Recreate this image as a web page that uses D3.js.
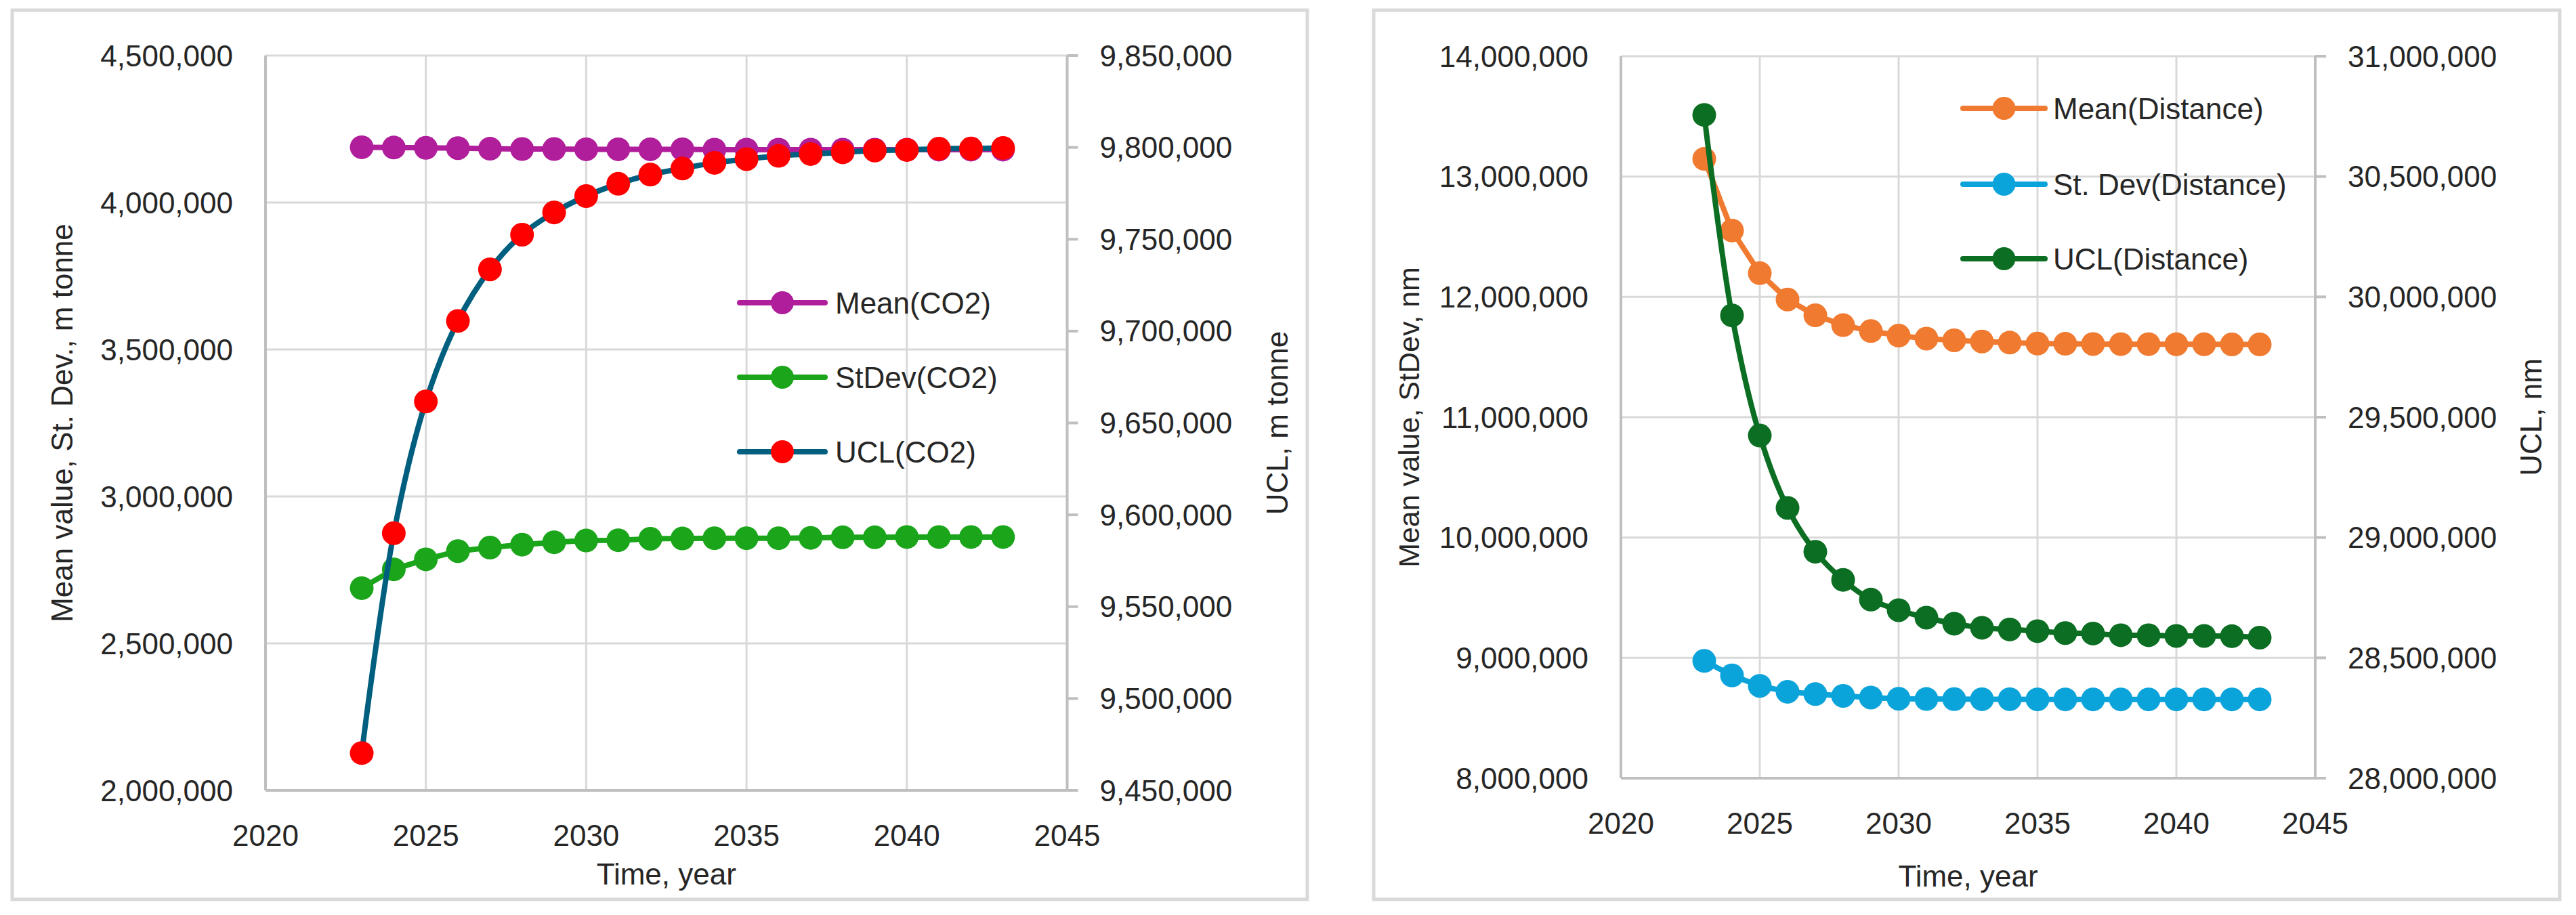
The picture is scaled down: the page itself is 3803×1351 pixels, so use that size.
<!DOCTYPE html>
<html>
<head>
<meta charset="utf-8">
<script src="https://cdn.jsdelivr.net/npm/d3@7"></script>
<style>
  html, body { margin: 0; padding: 0; background: #fff; }
  svg { display: block; }
  text { font-family: "Liberation Sans", Arial, sans-serif; fill: #262626; }
  .narrow { font-family: "Liberation Sans Narrow", "Liberation Sans", Arial, sans-serif; }
</style>
</head>
<body>
<div id="svgcontainer"></div>
<script>
// --- --- Data --- ---

var years = [2023, 2024, 2025, 2026, 2027, 2028, 2029, 2030, 2031, 2032, 2033,
             2034, 2035, 2036, 2037, 2038, 2039, 2040, 2041, 2042, 2043];

// CO2 (left chart)
var co2Mean  = [4188000, 4187000, 4186000, 4185000, 4183000, 4182000, 4182000, 4181000, 4181000, 4181000, 4181000,
                4180000, 4180000, 4180000, 4180000, 4180000, 4180000, 4180000, 4180000, 4180000, 4180000];
var co2StDev = [2688000, 2752000, 2786000, 2814000, 2826000, 2836000, 2844000, 2850000, 2851000, 2856000, 2857000,
                2858000, 2858000, 2858000, 2859000, 2861000, 2861000, 2862000, 2862000, 2862000, 2862000];
var co2Ucl   = [9470300, 9590000, 9661700, 9705500, 9733600, 9752500, 9764600, 9773500, 9780200, 9785200, 9788500,
                9791600, 9793600, 9795400, 9796400, 9797300, 9798300, 9798600, 9799300, 9799400, 9799700];

// Distance (right chart)
var distMean  = [13147000, 12551000, 12197000, 11978000, 11847000, 11765000, 11716000, 11678000, 11653000, 11639000, 11629000,
                 11620000, 11612000, 11610000, 11608000, 11607000, 11607000, 11606000, 11606000, 11605000, 11605000];
var distStDev = [8975000, 8854000, 8767000, 8718000, 8699000, 8684000, 8670000, 8660000, 8658000, 8657000, 8656000,
                 8656000, 8655000, 8655000, 8655000, 8655000, 8655000, 8655000, 8655000, 8655000, 8655000];
var distUcl   = [30756000, 29923000, 29424000, 29123000, 28941000, 28824000, 28742000, 28698000, 28667000, 28642000, 28625000,
                 28618000, 28611000, 28603000, 28601000, 28594000, 28594000, 28591000, 28591000, 28590000, 28584000];

// Tick values
var xTicks = [2020, 2025, 2030, 2035, 2040, 2045];
var co2LeftTicks  = [2000000, 2500000, 3000000, 3500000, 4000000, 4500000];
var co2RightTicks = [9450000, 9500000, 9550000, 9600000, 9650000, 9700000, 9750000, 9800000, 9850000];
var distLeftTicks  = [8000000, 9000000, 10000000, 11000000, 12000000, 13000000, 14000000];
var distRightTicks = [28000000, 28500000, 29000000, 29500000, 30000000, 30500000, 31000000];

// Series names
var co2Names  = ["Mean(CO2)", "StDev(CO2)", "UCL(CO2)"];
var distNames = ["Mean(Distance)", "St. Dev(Distance)", "UCL(Distance)"];

// --- --- Layout --- ---

var width = 3803;
var height = 1351;
var grid_color = "#D9D9D9";
var axis_color = "#BFBFBF";

var svg = d3.select("#svgcontainer").append("svg")
    .attr("width", width).attr("height", height)
    .attr("viewBox", [0, 0, width, height]);

var charts = [
  {
    panel: {x: 18, y: 15, w: 1912, h: 1313},
    plot: {left: 392, right: 1575.5, top: 82, bottom: 1167},
    leftTicks: co2LeftTicks, rightTicks: co2RightTicks,
    leftTitle: "Mean value, St. Dev., m tonne", leftTitleX: 91, leftTitleSize: 44,
    rightTitle: "UCL, m tonne", rightTitleX: 1885,
    xTitleY: 1290,
    series: [
      {name: co2Names[0], values: co2Mean,  axis: "left",  line: "#B01E9B", marker: "#B01E9B"},
      {name: co2Names[1], values: co2StDev, axis: "left",  line: "#1AA51A", marker: "#1AA51A"},
      {name: co2Names[2], values: co2Ucl,   axis: "right", line: "#005E7F", marker: "#FF0000", smooth: true}
    ],
    legend: {x1: 1092, x2: 1218, textX: 1233, rows: [447, 557, 667]}
  },
  {
    panel: {x: 2028, y: 15, w: 1751, h: 1313},
    plot: {left: 2393, right: 3418, top: 83, bottom: 1149},
    leftTicks: distLeftTicks, rightTicks: distRightTicks,
    leftTitle: "Mean value, StDev, nm", leftTitleX: 2080, leftTitleSize: 43,
    rightTitle: "UCL, nm", rightTitleX: 3736,
    xTitleY: 1293,
    series: [
      {name: distNames[0], values: distMean,  axis: "left",  line: "#F07A30", marker: "#F07A30"},
      {name: distNames[1], values: distStDev, axis: "left",  line: "#0AA3DA", marker: "#0AA3DA"},
      {name: distNames[2], values: distUcl,   axis: "right", line: "#0B6E22", marker: "#0B6E22", smooth: true}
    ],
    legend: {x1: 2898, x2: 3019, textX: 3031, rows: [160, 272, 382]}
  }
];

charts.forEach(drawChart);

// --- --- Functions --- ---

function drawChart(c){
    var g = svg.append("g");

    // panel border
    g.append("rect")
        .attr("x", c.panel.x).attr("y", c.panel.y)
        .attr("width", c.panel.w).attr("height", c.panel.h)
        .attr("fill", "#fff").attr("stroke", "#D9D9D9").attr("stroke-width", 5);

    var x = d3.scaleLinear().domain([xTicks[0], xTicks[xTicks.length-1]]).range([c.plot.left, c.plot.right]);
    var yL = d3.scaleLinear().domain(d3.extent(c.leftTicks)).range([c.plot.bottom, c.plot.top]);
    var yR = d3.scaleLinear().domain(d3.extent(c.rightTicks)).range([c.plot.bottom, c.plot.top]);
    var fmt = d3.format(",");

    // horizontal gridlines (left axis)
    g.append("g").selectAll("line").data(c.leftTicks.slice(1)).join("line")
        .attr("x1", c.plot.left).attr("x2", c.plot.right)
        .attr("y1", d => yL(d)).attr("y2", d => yL(d))
        .attr("stroke", grid_color).attr("stroke-width", 3);

    // vertical gridlines
    g.append("g").selectAll("line").data(xTicks.slice(1, -1)).join("line")
        .attr("x1", d => x(d)).attr("x2", d => x(d))
        .attr("y1", c.plot.top).attr("y2", c.plot.bottom)
        .attr("stroke", grid_color).attr("stroke-width", 3);

    // axis lines
    var axes = g.append("g").attr("stroke", axis_color).attr("stroke-width", 4);
    axes.append("line").attr("x1", c.plot.left).attr("x2", c.plot.left).attr("y1", c.plot.top).attr("y2", c.plot.bottom);
    axes.append("line").attr("x1", c.plot.right).attr("x2", c.plot.right).attr("y1", c.plot.top).attr("y2", c.plot.bottom);
    axes.append("line").attr("x1", c.plot.left).attr("x2", c.plot.right).attr("y1", c.plot.bottom).attr("y2", c.plot.bottom);
    // right axis ticks (outside)
    axes.selectAll(".rt").data(c.rightTicks).join("line").attr("class", "rt")
        .attr("x1", c.plot.right).attr("x2", c.plot.right + 16)
        .attr("y1", d => yR(d)).attr("y2", d => yR(d));

    // tick labels
    g.append("g").selectAll("text").data(c.leftTicks).join("text")
        .attr("x", c.plot.left - 48).attr("y", d => yL(d))
        .attr("text-anchor", "end").attr("dominant-baseline", "central")
        .attr("font-size", 44).text(d => fmt(d));
    g.append("g").selectAll("text").data(c.rightTicks).join("text")
        .attr("x", c.plot.right + 48).attr("y", d => yR(d))
        .attr("text-anchor", "start").attr("dominant-baseline", "central")
        .attr("font-size", 44).text(d => fmt(d));
    g.append("g").selectAll("text").data(xTicks).join("text")
        .attr("x", d => x(d)).attr("y", c.plot.bottom + 66)
        .attr("text-anchor", "middle").attr("dominant-baseline", "central")
        .attr("font-size", 44).text(d => d);

    // axis titles
    var midY = (c.plot.top + c.plot.bottom) / 2;
    g.append("text").attr("transform", "translate(" + c.leftTitleX + "," + midY + ") rotate(-90)")
        .attr("text-anchor", "middle").attr("dominant-baseline", "central")
        .attr("font-size", c.leftTitleSize).text(c.leftTitle);
    g.append("text").attr("transform", "translate(" + c.rightTitleX + "," + midY + ") rotate(-90)")
        .attr("text-anchor", "middle").attr("dominant-baseline", "central")
        .attr("font-size", 44).text(c.rightTitle);
    g.append("text").attr("class", "narrow")
        .attr("x", (c.plot.left + c.plot.right) / 2).attr("y", c.xTitleY)
        .attr("text-anchor", "middle").attr("dominant-baseline", "central")
        .attr("font-size", 44).text("Time, year");

    // series
    c.series.forEach(function(s){
        var y = s.axis == "left" ? yL : yR;
        var pts = years.map((yr, i) => [x(yr), y(s.values[i])]);
        var line = d3.line().curve(s.smooth ? d3.curveCatmullRom.alpha(0.5) : d3.curveLinear);
        g.append("path").attr("d", line(pts))
            .attr("fill", "none").attr("stroke", s.line).attr("stroke-width", 8)
            .attr("stroke-linejoin", "round").attr("stroke-linecap", "round");
        g.append("g").selectAll("circle").data(pts).join("circle")
            .attr("cx", d => d[0]).attr("cy", d => d[1]).attr("r", 17.5)
            .attr("fill", s.marker);
    });

    // legend
    c.series.forEach(function(s, i){
        var ly = c.legend.rows[i];
        g.append("line").attr("x1", c.legend.x1).attr("x2", c.legend.x2)
            .attr("y1", ly).attr("y2", ly)
            .attr("stroke", s.line).attr("stroke-width", 8).attr("stroke-linecap", "round");
        g.append("circle").attr("cx", (c.legend.x1 + c.legend.x2) / 2).attr("cy", ly)
            .attr("r", 17).attr("fill", s.marker);
        g.append("text").attr("class", "narrow")
            .attr("x", c.legend.textX).attr("y", ly)
            .attr("dominant-baseline", "central")
            .attr("font-size", 44).text(s.name);
    });
}
</script>
</body>
</html>
